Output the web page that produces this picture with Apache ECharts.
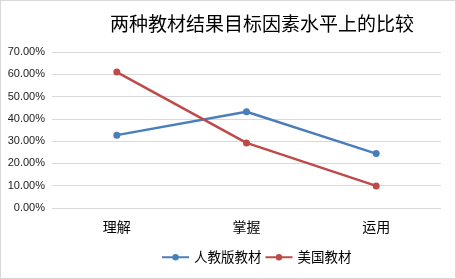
<!DOCTYPE html>
<html><head><meta charset="utf-8">
<script src="https://cdn.jsdelivr.net/npm/echarts@6/dist/echarts.min.js"></script>
<style>html,body{margin:0;padding:0;background:#fff}#c{width:456px;height:279px;box-sizing:border-box;border:1px solid #d9d9d9}</style>
</head><body><div id="c"></div>
<script>
const title = '两种教材结果目标因素水平上的比较';
const categories = ['理解', '掌握', '运用'];
const seriesNames = ['人教版教材', '美国教材'];
const renjiao = [0.327, 0.432, 0.244];
const meiguo = [0.610, 0.292, 0.099];
const yMin = 0, yMax = 0.7, yInterval = 0.1;

const chart = echarts.init(document.getElementById('c'));
const cjk = '"Noto Sans CJK SC", sans-serif';
chart.setOption({
  animation: false,
  backgroundColor: '#fff',
  title: {
    text: title, left: 256, top: 8, textAlign: 'center',
    textStyle: {fontFamily: cjk, fontSize: 19, fontWeight: 'normal', color: '#000'}
  },
  legend: {
    bottom: 9, left: 155, itemWidth: 27, itemHeight: 8, itemGap: 3,
    textStyle: {fontFamily: cjk, fontSize: 13.5, color: '#000'},
    data: seriesNames
  },
  grid: {left: 51, right: 14, top: 51, bottom: 70},
  xAxis: {
    type: 'category', data: categories, boundaryGap: true,
    axisLine: {show: false}, axisTick: {show: false},
    axisLabel: {fontFamily: cjk, fontSize: 14, color: '#000', margin: 12}
  },
  yAxis: {
    type: 'value', min: yMin, max: yMax, interval: yInterval,
    axisLine: {show: false}, axisTick: {show: false},
    splitLine: {lineStyle: {color: '#d9d9d9', width: 1}},
    axisLabel: {fontFamily: 'Liberation Sans, Arial, sans-serif', fontSize: 11, color: '#222', margin: 7,
      formatter: v => (v * 100).toFixed(2) + '%'}
  },
  series: [
    {name: seriesNames[0], type: 'line', data: renjiao, symbol: 'circle', symbolSize: 7,
     itemStyle: {color: '#4a7ebb'}, lineStyle: {width: 2.5, color: '#4a7ebb'}},
    {name: seriesNames[1], type: 'line', data: meiguo, symbol: 'circle', symbolSize: 7,
     itemStyle: {color: '#be4b48'}, lineStyle: {width: 2.5, color: '#be4b48'}}
  ]
});
</script></body></html>
